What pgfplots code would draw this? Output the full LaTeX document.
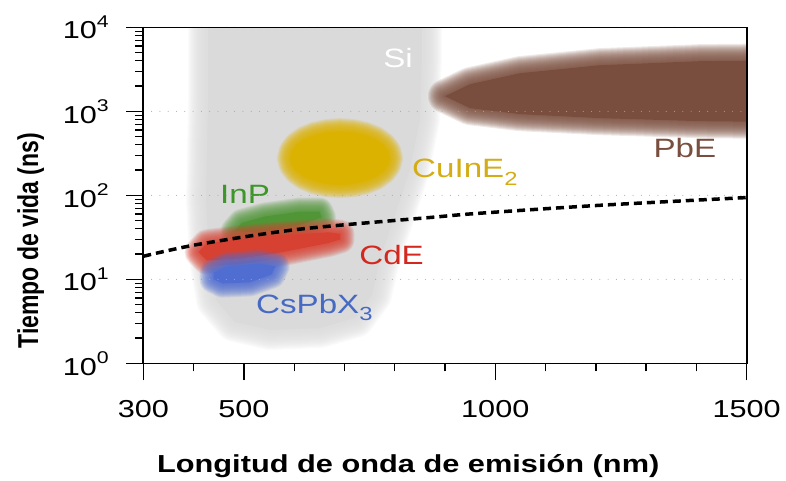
\documentclass[border=0pt]{standalone}
\usepackage{fontspec}
\setmainfont{Liberation Sans}[FakeStretch=1.25]
\newfontfamily\ylabfont{Liberation Sans}
\usepackage{graphicx}
\usepackage{pgfplots}
\usepackage{pgfplotstable}
\pgfplotsset{compat=1.18}

\definecolor{siGray}{RGB}{218,218,218}
\definecolor{pbeBrown}{RGB}{122,78,62}
\definecolor{cuYellow}{RGB}{220,178,0}
\definecolor{cuText}{RGB}{212,172,20}
\definecolor{inpGreen}{RGB}{80,150,55}
\definecolor{inpText}{RGB}{60,150,40}
\definecolor{cdRed}{RGB}{215,65,50}
\definecolor{cdText}{RGB}{210,40,30}
\definecolor{csBlue}{RGB}{80,110,210}
\definecolor{csText}{RGB}{70,105,195}

\newcommand{\tickfont}{\fontsize{24.5}{28}\selectfont}
\newcommand{\labfont}{\fontsize{26.5}{30}\selectfont}
\newcommand{\tl}[1]{10\raisebox{0.48em}{\fontsize{17}{17}\selectfont #1}}
\newcommand{\sub}[1]{\raisebox{-0.3em}{\fontsize{19}{19}\selectfont #1}}

% blob outlines (core contours), x in nm, y in ns
\pgfplotstableread{
x y
428.7 100000
428.7 1358
424.7 87.7
430.7 16.9
444.6 5.66
482.4 3.10
552.0 2.49
651.4 2.63
721.0 3.46
754.8 6.50
770.7 16.9
800.6 58.1
830.0 199.5
850.0 785
854.0 4060
854.0 100000
428.7 100000
}\SiShape

\pgfplotstableread{
x y
900.0 1514
949.7 2104
1049.2 2844
1208.2 3540
1407.1 3953
1606.0 4060
1606.0 743
1407.1 763
1208.2 829
1049.2 925
949.7 1090
900.0 1514
}\PbEShape

\pgfplotstableread{
x y
790.6 277.2
787.2 335.7
777.3 401
761.6 467.7
740.9 526
716.8 566.4
691.2 580.6
665.5 566.4
641.5 526
620.8 467.7
605.1 401
595.1 335.7
591.7 277.2
595.1 228.7
605.1 191.4
620.8 164.2
641.5 145.9
665.5 135.5
691.2 132.2
716.8 135.5
740.9 145.9
761.6 164.2
777.3 191.4
787.2 228.7
790.6 277.2
}\CuShape

\pgfplotstableread{
x y
482.0 37.5
496.0 47.0
542.0 56.0
611.6 64.0
650.0 64.0
655.0 54.5
611.6 44.5
532.1 36.0
482.0 37.5
}\InPShape

\pgfplotstableread{
x y
410.0 21.1
426.0 26.8
492.3 30.0
571.9 33.5
668.0 36.3
692.0 34.8
692.0 29.8
668.0 27.0
571.9 20.8
492.3 17.6
426.0 16.8
410.0 21.1
}\CdShape

\pgfplotstableread{
x y
440.0 12.0
465.0 14.3
530.0 15.4
563.0 14.3
555.0 11.4
512.2 9.2
458.0 8.9
440.0 10.0
440.0 12.0
}\CsShape

% soft-edged blob: #1 table, #2 colour, #3 stroke widths, #4 opacity per layer
\newcommand{\softblob}[4]{%
  \pgfplotsinvokeforeach{#3}{%
    \addplot[draw=#2, line width=##1pt, line join=round, line cap=round,
             opacity=#4, mark=none, forget plot] table {#1};
  }%
  \addplot[fill=#2, draw=none, mark=none, forget plot] table {#1};
}

\begin{document}
\begin{tikzpicture}
\begin{axis}[
  at={(0,0)}, anchor=south west,
  scale only axis, width=603.4pt, height=336pt,
  xmin=300, xmax=1500,
  ymode=log, ymin=1, ymax=10000,
  xtick={300,500,1000,1500},
  xticklabels={300,500,1000,1500},
  minor xtick={400,600,700,800,900,1100,1200,1300,1400},
  ytick={1,10,100,1000,10000},
  yticklabels={\tl{0},\tl{1},\tl{2},\tl{3},\tl{4}},
  minor ytick={2,3,4,5,6,7,8,9,20,30,40,50,60,70,80,90,200,300,400,500,600,700,800,900,2000,3000,4000,5000,6000,7000,8000,9000},
  tick align=outside, tick pos=left,
  major tick length=17pt, minor tick length=8pt,
  tick style={black, line width=1.3pt},
  axis line style={line width=1.6pt},
  ymajorgrids,
  grid style={gray!70, line width=1.1pt, line cap=round, dash pattern=on 0pt off 8.3pt},
  axis on top,
  tick label style={font=\tickfont},
  xticklabel style={yshift=-17pt},
  yticklabel style={xshift=-14pt},
  xlabel={\bfseries Longitud de onda de emisión (nm)},
  xlabel style={at={(axis description cs:0.439,-0.3235)}, anchor=base, inner sep=0pt,
                font=\fontsize{24.6}{28}\selectfont},
  ylabel={\scalebox{1}[1.25]{\ylabfont\bfseries Tiempo de vida (ns)}},
  ylabel style={at={(axis description cs:-0.1745,0.365)}, anchor=base, inner sep=0pt,
                font=\fontsize{23}{28}\selectfont},
]
\softblob{\SiShape}{siGray}{2,4,...,40}{0.11}
\softblob{\PbEShape}{pbeBrown}{2,4,...,34}{0.125}
\softblob{\CuShape}{cuYellow}{2,4,...,26}{0.16}
\softblob{\InPShape}{inpGreen}{2,4,...,28}{0.13}
\softblob{\CdShape}{cdRed}{2,4,...,28}{0.13}
\softblob{\CsShape}{csBlue}{2,4,...,28}{0.13}

\addplot[black, line width=3.5pt, dash pattern=on 8pt off 5pt, smooth, mark=none]
  coordinates {(300,18.8) (410,26.1) (609,39.4) (874,54.7) (968,61.1) (1207,76.0) (1500,94)};

\node[anchor=base, text=white, font=\labfont] at (axis cs:806.5,3352) {Si};
\node[anchor=base, text=pbeBrown, font=\labfont] at (axis cs:1377,284.8) {PbE};
\node[anchor=base west, text=cuText, font=\labfont, inner sep=0pt] at (axis cs:834.4,164.6) {CuInE\sub{2}};
\node[anchor=base, text=inpText, font=\labfont] at (axis cs:502.4,80.8) {InP};
\node[anchor=base, text=cdText, font=\labfont] at (axis cs:793.8,15.2) {CdE};
\node[anchor=base west, text=csText, font=\labfont, inner sep=0pt] at (axis cs:524.2,3.97) {CsPbX\sub{3}};
\end{axis}
\pgfresetboundingbox
\path[use as bounding box] (-143.3pt,-116.7pt) rectangle (642.7pt,363.3pt);
\end{tikzpicture}
\end{document}
